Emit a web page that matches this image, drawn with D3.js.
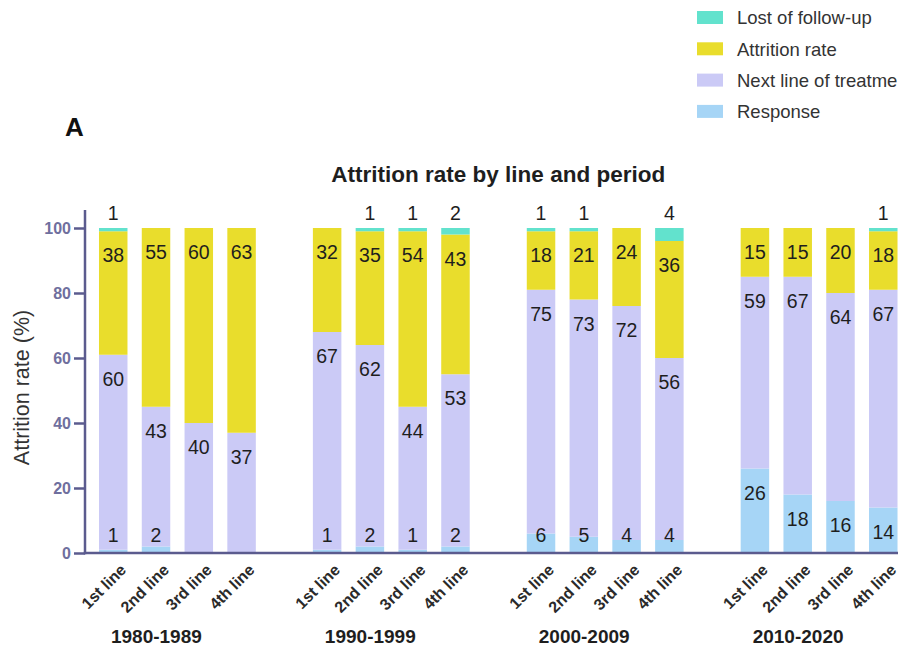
<!DOCTYPE html>
<html>
<head>
<meta charset="utf-8">
<script src="https://cdn.jsdelivr.net/npm/d3@7"></script>
<style>
  html, body { margin: 0; padding: 0; background: #fff; overflow: hidden; }
  svg { display: block; font-family: "Liberation Sans", Arial, sans-serif; }
</style>
</head>
<body>
<svg id="chart" width="898" height="646"></svg>
<script>
// Periods and treatment lines
const periods = ["1980-1989", "1990-1999", "2000-2009", "2010-2020"];
const lines = ["1st line", "2nd line", "3rd line", "4th line"];

// Percentages per bar, ordered period by period, line by line
const response   = [1, 2, 0, 0,   1, 2, 1, 2,   6, 5, 4, 4,   26, 18, 16, 14];
const nextLine   = [60, 43, 40, 37, 67, 62, 44, 53, 75, 73, 72, 56, 59, 67, 64, 67];
const attrition  = [38, 55, 60, 63, 32, 35, 54, 43, 18, 21, 24, 36, 15, 15, 20, 18];
const lostFollow = [1, 0, 0, 0,   0, 1, 1, 2,   1, 1, 0, 4,   0, 0, 0, 1];

const yTicks = [0, 20, 40, 60, 80, 100];

const seriesNames = ["Response", "Next line of treatment", "Attrition rate", "Lost of follow-up"];
const seriesColors = ["#a6d5f6", "#cbcaf6", "#e9dd2c", "#62e2cd"];

// One row per bar; slots leave an empty gap between periods
const rows = [];
periods.forEach((p, pi) => {
  lines.forEach((l, li) => {
    const i = pi * lines.length + li;
    rows.push({
      slot: pi * (lines.length + 1) + li,
      period: p, line: l,
      "Response": response[i],
      "Next line of treatment": nextLine[i],
      "Attrition rate": attrition[i],
      "Lost of follow-up": lostFollow[i]
    });
  });
});

const svg = d3.select("#chart");
const y0 = 553, y1 = 228, xLeft = 85, xRight = 911.5;

const nSlots = periods.length * (lines.length + 1) - 1;
const x = d3.scaleBand()
  .domain(d3.range(nSlots))
  .range([xLeft, xRight])
  .paddingInner(0.334)
  .paddingOuter(0.327);

const y = d3.scaleLinear().domain([0, 100]).range([y0, y1]);

const stack = d3.stack().keys(seriesNames);
const stacked = stack(rows);

// Bars
const layer = svg.append("g").selectAll("g")
  .data(stacked).join("g")
  .attr("fill", (d, i) => seriesColors[i]);

layer.selectAll("rect")
  .data(d => d.filter(s => s[1] - s[0] > 0))
  .join("rect")
  .attr("x", d => x(d.data.slot))
  .attr("width", x.bandwidth())
  .attr("y", d => y(d[1]))
  .attr("height", d => y(d[0]) - y(d[1]));

// Value labels
const labels = svg.append("g")
  .attr("font-size", 19.5)
  .attr("fill", "#1e1e1e")
  .attr("text-anchor", "middle");

stacked.forEach((s, si) => {
  s.forEach(d => {
    const v = d[1] - d[0];
    if (v <= 0) return;
    const cx = x(d.data.slot) + x.bandwidth() / 2;
    let cy;
    if (s.key === "Lost of follow-up") {
      cy = y(d[1]) - 15;
    } else {
      cy = Math.min(y(d[1]) + 24, y0 - 18);
    }
    labels.append("text")
      .attr("x", cx)
      .attr("y", cy)
      .attr("dy", "0.36em")
      .text(v);
  });
});

// Y axis
const axisColor = "#5b5b8e";
const yAxis = svg.append("g")
  .attr("transform", `translate(${xLeft},0)`)
  .call(d3.axisLeft(y).tickValues(yTicks).tickSize(11).tickPadding(3));
yAxis.select(".domain").remove();
yAxis.selectAll(".tick line").attr("stroke", axisColor).attr("stroke-width", 2.5);
yAxis.selectAll(".tick text")
  .attr("fill", "#6f6f9e")
  .attr("font-size", 16)
  .attr("font-weight", "bold")
  .attr("font-family", "'Liberation Sans', Arial, sans-serif");

svg.append("line")
  .attr("x1", xLeft).attr("x2", xLeft)
  .attr("y1", y0 + 1.25).attr("y2", 210)
  .attr("stroke", axisColor).attr("stroke-width", 2.5);

// X axis baseline
svg.append("line")
  .attr("x1", xLeft - 1.25).attr("x2", 960)
  .attr("y1", y0).attr("y2", y0)
  .attr("stroke", axisColor).attr("stroke-width", 2.5);

// Rotated line labels
svg.append("g").selectAll("text")
  .data(rows).join("text")
  .attr("transform", d => `translate(${x(d.slot) + x.bandwidth() / 2 + 6},${y0 + 10}) rotate(-45)`)
  .attr("text-anchor", "end")
  .attr("dy", "0.7em")
  .attr("font-size", 16)
  .attr("font-weight", "bold")
  .attr("fill", "#2a2a2a")
  .text(d => d.line);

// Period labels
svg.append("g").selectAll("text")
  .data(periods).join("text")
  .attr("x", (p, pi) => {
    const a = x(pi * (lines.length + 1));
    const b = x(pi * (lines.length + 1) + lines.length - 1) + x.bandwidth();
    return (a + b) / 2 - 21;
  })
  .attr("y", 643)
  .attr("text-anchor", "middle")
  .attr("font-size", 19)
  .attr("font-weight", "bold")
  .attr("fill", "#1e1e1e")
  .text(d => d);

// Y axis title
svg.append("text")
  .attr("transform", `translate(29,${(y0 + 222) / 2}) rotate(-90)`)
  .attr("text-anchor", "middle")
  .attr("font-size", 21.5)
  .attr("fill", "#333")
  .text("Attrition rate (%)");

// Chart title
svg.append("text")
  .attr("x", (xLeft + xRight) / 2)
  .attr("y", 182)
  .attr("text-anchor", "middle")
  .attr("font-size", 22.5)
  .attr("font-weight", "bold")
  .attr("fill", "#1e1e1e")
  .text("Attrition rate by line and period");

// Panel letter
svg.append("text")
  .attr("x", 65)
  .attr("y", 136)
  .attr("font-size", 26)
  .attr("font-weight", "bold")
  .attr("fill", "#111")
  .text("A");

// Legend, top layer first
const legendItems = seriesNames.map((n, i) => ({ name: n, color: seriesColors[i] })).reverse();
const legend = svg.append("g").selectAll("g")
  .data(legendItems).join("g")
  .attr("transform", (d, i) => `translate(697,${18 + i * 31.3})`);
legend.append("rect")
  .attr("x", 0).attr("y", -7)
  .attr("width", 26).attr("height", 13)
  .attr("fill", d => d.color);
legend.append("text")
  .attr("x", 40)
  .attr("dy", "0.35em")
  .attr("font-size", 18.5)
  .attr("fill", "#333")
  .text(d => d.name);
</script>
</body>
</html>
